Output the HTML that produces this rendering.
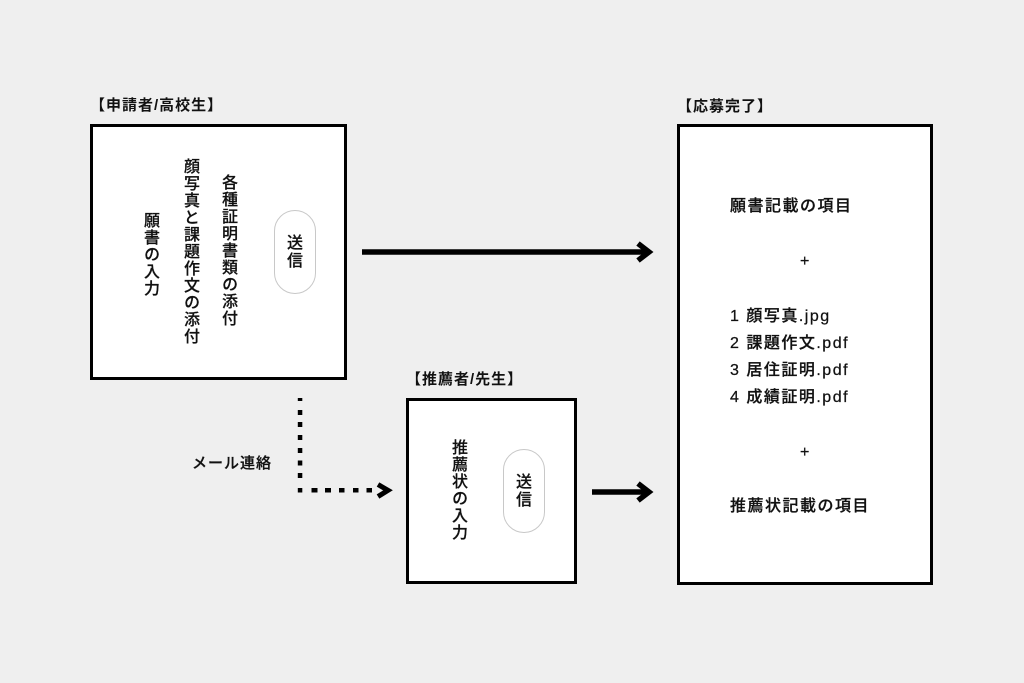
<!DOCTYPE html>
<html lang="ja">
<head>
<meta charset="utf-8">
<style>
  html,body{margin:0;padding:0;}
  body{width:1024px;height:683px;background:#efefef;position:relative;overflow:hidden;
       font-family:"Liberation Sans","Noto Sans CJK JP",sans-serif;color:#111;}
  .box{position:absolute;box-sizing:border-box;border:3px solid #000;background:#fff;}
  .lbl{position:absolute;font-size:15px;line-height:20px;font-weight:700;letter-spacing:1px;white-space:nowrap;}
  .v{position:absolute;writing-mode:vertical-rl;text-orientation:upright;font-size:16px;line-height:20px;width:20px;letter-spacing:1px;font-weight:500;white-space:nowrap;-webkit-text-stroke:0.2px #111;}
  .pill{position:absolute;box-sizing:border-box;width:42px;height:84px;border:1.5px solid #c8c8c8;border-radius:21px;background:#fff;
        display:flex;align-items:center;justify-content:center;}
  .pill span{writing-mode:vertical-rl;text-orientation:upright;font-size:16px;line-height:20px;letter-spacing:2px;font-weight:500;-webkit-text-stroke:0.2px #111;transform:translateX(-3px);}
  .t{position:absolute;font-size:16px;line-height:20px;letter-spacing:1.5px;font-weight:500;white-space:nowrap;-webkit-text-stroke:0.25px #111;}
  svg{position:absolute;left:0;top:0;}
</style>
</head>
<body>

<!-- Labels -->
<div class="lbl" style="left:90px;top:96px;">【申請者/高校生】</div>
<div class="lbl" style="left:677px;top:97px;">【応募完了】</div>
<div class="lbl" style="left:406px;top:370px;">【推薦者/先生】</div>
<div class="t" style="left:192px;top:454px;font-size:15px;letter-spacing:1px;">メール連絡</div>

<!-- Box 1 -->
<div class="box" style="left:90px;top:124px;width:257px;height:256px;"></div>
<div class="v" style="left:139px;top:212px;">願書の入力</div>
<div class="v" style="left:179px;top:158px;">顔写真と課題作文の添付</div>
<div class="v" style="left:217px;top:174px;">各種証明書類の添付</div>
<div class="pill" style="left:274px;top:210px;"><span>送信</span></div>

<!-- Box 2 -->
<div class="box" style="left:406px;top:398px;width:171px;height:186px;"></div>
<div class="v" style="left:447px;top:439px;">推薦状の入力</div>
<div class="pill" style="left:503px;top:449px;"><span>送信</span></div>

<!-- Box 3 -->
<div class="box" style="left:677px;top:124px;width:256px;height:461px;"></div>
<div class="t" style="left:730px;top:197px;">願書記載の項目</div>
<div class="t" style="left:800px;top:252px;">+</div>
<div class="t" style="left:730px;top:307px;">1 顔写真.jpg</div>
<div class="t" style="left:730px;top:334px;">2 課題作文.pdf</div>
<div class="t" style="left:730px;top:361px;">3 居住証明.pdf</div>
<div class="t" style="left:730px;top:388px;">4 成績証明.pdf</div>
<div class="t" style="left:800px;top:443px;">+</div>
<div class="t" style="left:730px;top:497px;">推薦状記載の項目</div>

<!-- Connectors -->
<svg width="1024" height="683" viewBox="0 0 1024 683">
  <!-- Arrow 1 -->
  <line x1="362" y1="252" x2="646" y2="252" stroke="#000" stroke-width="5.5"/>
  <polyline points="638,243.5 649,252 638,260.5" fill="none" stroke="#000" stroke-width="5.5" stroke-linejoin="miter" stroke-miterlimit="10"/>
  <!-- Arrow 2 -->
  <line x1="592" y1="492" x2="646" y2="492" stroke="#000" stroke-width="5.5"/>
  <polyline points="638,483.5 649,492 638,500.5" fill="none" stroke="#000" stroke-width="5.5" stroke-linejoin="miter" stroke-miterlimit="10"/>
  <!-- Dotted connector -->
  <g fill="#000">
    <rect x="297.8" y="398" width="4.5" height="3"/>
    <rect x="297.8" y="410" width="4.5" height="5"/>
    <rect x="297.8" y="422" width="4.5" height="5"/>
    <rect x="297.8" y="435" width="4.5" height="5"/>
    <rect x="297.8" y="448" width="4.5" height="5"/>
    <rect x="297.8" y="460.5" width="4.5" height="5"/>
    <rect x="297.8" y="473" width="4.5" height="5"/>
    <rect x="297.8" y="488" width="4.5" height="4.5"/>
    <rect x="311.5" y="488" width="6" height="4.5"/>
    <rect x="325" y="488" width="6" height="4.5"/>
    <rect x="339" y="488" width="5.5" height="4.5"/>
    <rect x="353" y="488" width="5.5" height="4.5"/>
    <rect x="366.5" y="488" width="5.5" height="4.5"/>
  </g>
  <polyline points="378,484.5 388,490.3 378,496.5" fill="none" stroke="#000" stroke-width="5" stroke-linejoin="miter" stroke-miterlimit="10"/>
</svg>

</body>
</html>
